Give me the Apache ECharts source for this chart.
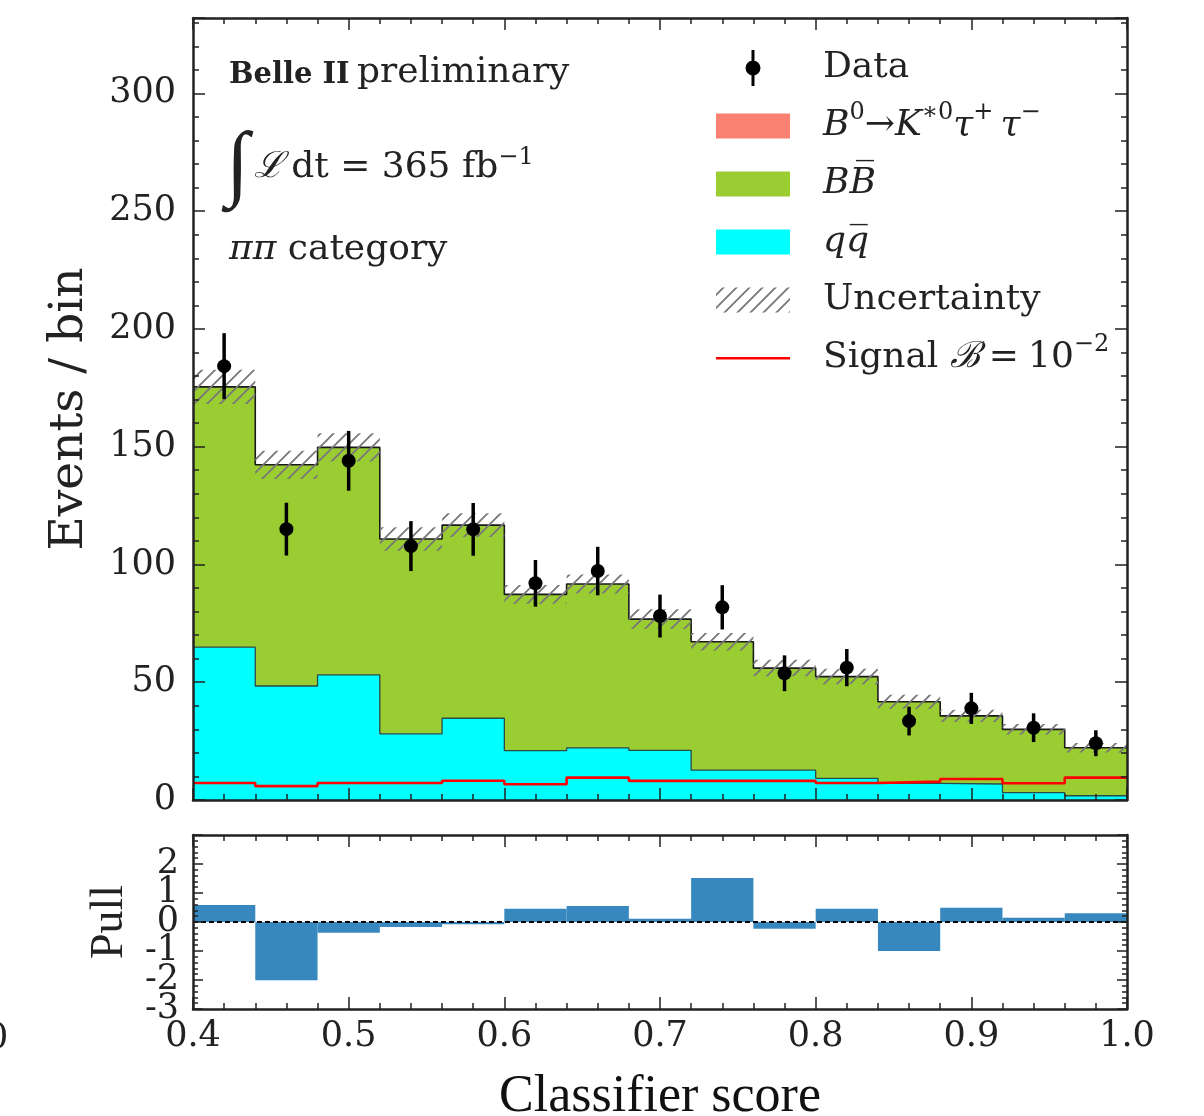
<!DOCTYPE html>
<html>
<head>
<meta charset="utf-8">
<title>Classifier score - pi pi category</title>
<script src="https://cdn.jsdelivr.net/npm/echarts@6/dist/echarts.min.js"></script>
<style>
  html, body { margin: 0; padding: 0; background: #fff; }
  #chart { width: 1204px; height: 1116px; }
</style>
</head>
<body>
<div id="chart"></div>
<script>
// bin edges of the classifier score (15 bins of 0.04)
const binEdges = [0.40, 0.44, 0.48, 0.52, 0.56, 0.60, 0.64, 0.68, 0.72, 0.76, 0.80, 0.84, 0.88, 0.92, 0.96, 1.00];

// stacked fit components (events / bin)
const qqYield = [64.9, 48.4, 53.1, 28.1, 34.7, 21.0, 22.1, 21.1, 12.7, 12.7, 9.2, 7.1, 6.8, 3.1, 1.8];
const bbYield = [110.5, 93.9, 96.6, 82.7, 82.0, 66.3, 69.6, 55.7, 54.5, 43.3, 43.2, 34.6, 28.9, 26.9, 20.4];
const sigFitYield = [0, 0, 0, 0, 0, 0, 0, 0, 0, 0, 0, 0, 0, 0, 0];
// half width of the hatched uncertainty band
const totalUnc = [7.3, 6.0, 6.0, 5.0, 5.0, 4.0, 4.0, 4.2, 3.7, 3.5, 3.3, 3.0, 2.6, 2.3, 2.0];
// signal shape for B = 1e-2
const signalRef = [7.2, 5.9, 7.2, 7.2, 8.2, 6.7, 9.5, 8.1, 8.1, 8.1, 7.2, 7.8, 8.9, 7.1, 9.5];

// data points
const dataCounts = [184.2, 115.0, 144.0, 107.8, 114.9, 92.0, 97.2, 78.1, 81.8, 53.8, 56.2, 33.5, 38.9, 30.7, 24.1];
const dataErrors = [14.0, 11.2, 12.7, 10.6, 11.2, 9.9, 10.3, 9.1, 9.4, 7.6, 7.9, 6.1, 6.6, 6.1, 5.5];

// pull per bin
const pullValues = [0.59, -2.01, -0.37, -0.17, -0.08, 0.46, 0.55, 0.11, 1.52, -0.23, 0.46, -1.0, 0.49, 0.15, 0.30];

// tick labels
const mainYTicks = [0, 50, 100, 150, 200, 250, 300];
const pullYTicks = [-3, -2, -1, 0, 1, 2];
const xTicks = [0.4, 0.5, 0.6, 0.7, 0.8, 0.9, 1.0];

const NAME_SIG = 'sigfit';
const NAME_BB = 'bb';
const NAME_QQ = 'qq';
const NAME_UNC = 'Uncertainty';
const NAME_DATA = 'Data';
const NAME_SIGREF = 'signal';

const serif = 'DejaVu Serif';
const times = 'Liberation Serif';
const ink = '#222';

// 斜线填充
function makeHatch() {
  const s = 13;
  const c = document.createElement('canvas');
  c.width = s;
  c.height = s;
  const g = c.getContext('2d');
  g.strokeStyle = '#777';
  g.lineWidth = 1.8;
  g.beginPath();
  g.moveTo(0, s); g.lineTo(s, 0);
  g.moveTo(-s / 2, s / 2); g.lineTo(s / 2, -s / 2);
  g.moveTo(s / 2, s * 1.5); g.lineTo(s * 1.5, s / 2);
  g.stroke();
  return { image: c, repeat: 'repeat' };
}
const hatch = makeHatch();

function stepPoints(vals) {
  const pts = vals.map((v, i) => [binEdges[i], v]);
  pts.push([binEdges[binEdges.length - 1], vals[vals.length - 1]]);
  return pts;
}

const qqTop = qqYield.slice();
const bbTop = qqYield.map((q, i) => q + bbYield[i]);
const sigTop = bbTop.map((t, i) => t + sigFitYield[i]);

// legend icons: 102 x 36 boxes, the tiny open subpaths only pin the bbox
const pin = ' M0,0 L0.01,0 M102,36 L102.01,36';
const boxIcon = 'path://M0,5.5 L74,5.5 L74,30.5 L0,30.5 Z' + pin;
const lineIcon = 'path://M0,17 L74,17 L74,19.5 L0,19.5 Z' + pin;
const dataIcon = 'path://M35.5,0 L38.5,0 L38.5,36 L35.5,36 Z M29.5,18 A7.5,7.5 0 1,1 44.5,18 A7.5,7.5 0 1,1 29.5,18 Z' + pin;

const legendLabels = {};
legendLabels[NAME_DATA] = 'Data';
legendLabels[NAME_SIG] = '{it|B}{sup|0}{rm|\u2192}{it|K}{sup|\u22170}{it|\u03c4}{sup|+}{it|\u2009\u03c4}{sup|\u2212}';
legendLabels[NAME_BB] = '{it|B}{it|B\u0305}';
legendLabels[NAME_QQ] = '{it|q}{it|q\u0305}';
legendLabels[NAME_UNC] = 'Uncertainty';
legendLabels[NAME_SIGREF] = 'Signal {cal|\u212c}{rm|\u2005=\u200510}{sup|\u22122}';

const tickStyle = { color: ink, width: 1.5 };

function xAxisOf(grid, position, showLabel) {
  return {
    type: 'value', gridIndex: grid, position: position, min: 0.4, max: 1.0, interval: 0.1, z: 5,
    axisLine: { show: true, onZero: false, lineStyle: { color: ink, width: 2.5 } },
    axisTick: { show: true, inside: true, length: 12, lineStyle: tickStyle },
    minorTick: { show: true, splitNumber: 5, length: 6, lineStyle: tickStyle },
    splitLine: { show: false }, minorSplitLine: { show: false },
    axisLabel: {
      show: showLabel, margin: 10, color: ink, fontFamily: serif, fontSize: 35,
      showMinLabel: true, showMaxLabel: true,
      formatter: v => {
        const hit = xTicks.find(t => Math.abs(t - v) < 1e-6);
        return hit === undefined ? '' : hit.toFixed(1);
      }
    }
  };
}

function mainYAxis(position, interval, len, showLabel, showLine) {
  return {
    type: 'value', gridIndex: 0, position: position, offset: 0, min: 0, max: 332, interval: interval, z: 5,
    axisLine: { show: showLine, onZero: false, lineStyle: { color: ink, width: 2.5 } },
    axisTick: { show: true, inside: true, length: len, lineStyle: tickStyle },
    splitLine: { show: false },
    axisLabel: {
      show: showLabel, margin: 17, color: ink, fontFamily: serif, fontSize: 35,
      showMinLabel: true,
      formatter: v => (mainYTicks.indexOf(v) >= 0 ? String(v) : '')
    }
  };
}

// the pull labels overlap each other, so odd and even ones live on two axes
function pullYAxis(position, labelParity, withTicks) {
  return {
    type: 'value', gridIndex: 1, position: position, offset: 0, min: -3, max: 3, interval: 1, z: 5,
    axisLine: { show: withTicks, onZero: false, lineStyle: { color: ink, width: 2.5 } },
    axisTick: { show: withTicks, inside: true, length: 10, lineStyle: tickStyle },
    minorTick: { show: withTicks, splitNumber: 5, length: 5, lineStyle: tickStyle },
    splitLine: { show: false }, minorSplitLine: { show: false },
    axisLabel: {
      show: labelParity !== null, margin: 14, color: ink, fontFamily: serif, fontSize: 35,
      showMinLabel: true, showMaxLabel: false,
      formatter: v => (pullYTicks.indexOf(v) >= 0 && Math.abs(v % 2) === labelParity ? String(v) : '')
    }
  };
}

const yMainLeft = mainYAxis('left', 50, 12, true, true);
yMainLeft.name = 'Events / bin';
yMainLeft.nameLocation = 'middle';
yMainLeft.nameGap = 100;
yMainLeft.nameTextStyle = { fontFamily: serif, fontSize: 47, color: ink };

const yPullLeft = pullYAxis('left', 1, true);
yPullLeft.name = 'Pull';
yPullLeft.nameLocation = 'middle';
yPullLeft.nameGap = 60;
yPullLeft.nameTextStyle = { fontFamily: times, fontSize: 46, color: ink };

const xPullBottom = xAxisOf(1, 'bottom', true);
xPullBottom.name = 'Classifier score';
xPullBottom.nameLocation = 'middle';
xPullBottom.nameGap = 62;
xPullBottom.nameTextStyle = { fontFamily: times, fontSize: 52, color: '#111' };

const option = {
  animation: false,
  backgroundColor: '#fff',
  grid: [
    { left: 193, right: 77, top: 18, height: 782, outerBoundsMode: 'none', containLabel: false },
    { left: 193, right: 77, top: 835, height: 174, outerBoundsMode: 'none', containLabel: false }
  ],
  xAxis: [
    xAxisOf(0, 'bottom', false),
    xAxisOf(0, 'top', false),
    xPullBottom,
    xAxisOf(1, 'top', false)
  ],
  yAxis: [
    yMainLeft,
    mainYAxis('left', 10, 6, false, false),
    mainYAxis('right', 50, 12, false, true),
    mainYAxis('right', 10, 6, false, false),
    yPullLeft,
    pullYAxis('right', null, true),
    pullYAxis('left', 0, false)
  ],
  legend: {
    orient: 'vertical', left: 716, top: 43, padding: 0, itemGap: 8,
    itemWidth: 102, itemHeight: 36, selectedMode: false,
    textStyle: {
      fontFamily: serif, fontSize: 36, color: ink, lineHeight: 50,
      rich: {
        it: { fontFamily: serif, fontStyle: 'italic', fontSize: 36, lineHeight: 50 },
        rm: { fontFamily: serif, fontSize: 36, lineHeight: 50 },
        cal: { fontFamily: serif, fontStyle: 'italic', fontSize: 36, lineHeight: 50 },
        sup: { fontFamily: serif, fontSize: 24, lineHeight: 28, verticalAlign: 'top' }
      }
    },
    formatter: name => legendLabels[name],
    data: [
      { name: NAME_DATA, icon: dataIcon, itemStyle: { color: '#000', borderWidth: 0 } },
      { name: NAME_SIG, icon: boxIcon, itemStyle: { color: '#fa8072', borderWidth: 0 } },
      { name: NAME_BB, icon: boxIcon, itemStyle: { color: '#9acd32', borderWidth: 0 } },
      { name: NAME_QQ, icon: boxIcon, itemStyle: { color: '#00ffff', borderWidth: 0 } },
      { name: NAME_UNC, icon: boxIcon, itemStyle: { color: hatch, borderWidth: 0 } },
      { name: NAME_SIGREF, icon: lineIcon, itemStyle: { color: '#ff0000', borderWidth: 0 } }
    ]
  },
  graphic: [
    { type: 'text', x: 229, y: 75, style: { text: 'Belle II', fontFamily: serif, fontWeight: 'bold', fontSize: 29, fill: ink, verticalAlign: 'middle' } },
    { type: 'text', x: 357, y: 73, style: { text: 'preliminary', fontFamily: serif, fontSize: 36, fill: ink, verticalAlign: 'middle' } },
    { type: 'text', x: 226, y: 168, style: { text: '\u222b', fontFamily: times, fontSize: 84, fill: ink, verticalAlign: 'middle' } },
    {
      type: 'text', x: 254, y: 168,
      style: {
        text: '{cal|\u2112}{n|\u2009dt = 365 fb}{sup|\u22121}',
        fill: ink, verticalAlign: 'middle',
        rich: {
          cal: { fontFamily: serif, fontStyle: 'italic', fontSize: 36, lineHeight: 44 },
          n: { fontFamily: serif, fontSize: 36, lineHeight: 44 },
          sup: { fontFamily: serif, fontSize: 24, lineHeight: 24, verticalAlign: 'top' }
        }
      }
    },
    {
      type: 'text', x: 229, y: 250,
      style: {
        text: '{it|\u03c0\u03c0} category', fontFamily: serif, fontSize: 36, fill: ink, verticalAlign: 'middle',
        rich: { it: { fontFamily: serif, fontStyle: 'italic', fontSize: 36 } }
      }
    },
    { type: 'text', x: -14, y: 1039, style: { text: '0', fontFamily: serif, fontSize: 35, fill: ink, verticalAlign: 'middle' } }
  ],
  series: [
    {
      name: NAME_SIG, type: 'line', xAxisIndex: 0, yAxisIndex: 0, step: 'end', symbol: 'none', z: 1,
      data: stepPoints(sigTop), itemStyle: { color: '#fa8072' },
      lineStyle: { width: 0 }, areaStyle: { color: '#fa8072', opacity: 1 }
    },
    {
      name: NAME_BB, type: 'line', xAxisIndex: 0, yAxisIndex: 0, step: 'end', symbol: 'none', z: 1,
      data: stepPoints(bbTop), itemStyle: { color: '#9acd32' },
      lineStyle: { color: '#1a1a1a', width: 1.6 }, areaStyle: { color: '#9acd32', opacity: 1 }
    },
    {
      name: NAME_QQ, type: 'line', xAxisIndex: 0, yAxisIndex: 0, step: 'end', symbol: 'none', z: 2,
      data: stepPoints(qqTop), itemStyle: { color: '#00ffff' },
      lineStyle: { color: '#2b4b4b', width: 1.3 }, areaStyle: { color: '#00ffff', opacity: 1 }
    },
    {
      name: NAME_UNC, type: 'custom', xAxisIndex: 0, yAxisIndex: 0, clip: true, z: 3,
      itemStyle: { color: hatch },
      encode: { x: [0, 1], y: [2, 3] },
      data: sigTop.map((t, i) => [binEdges[i], binEdges[i + 1], t - totalUnc[i], t + totalUnc[i]]),
      renderItem: (params, api) => {
        const a = api.coord([api.value(0), api.value(3)]);
        const b = api.coord([api.value(1), api.value(2)]);
        return {
          type: 'rect',
          shape: { x: a[0], y: a[1], width: b[0] - a[0], height: b[1] - a[1] },
          style: { fill: hatch }
        };
      }
    },
    {
      name: NAME_SIGREF, type: 'line', xAxisIndex: 0, yAxisIndex: 0, step: 'end', symbol: 'none', z: 4,
      data: stepPoints(signalRef), itemStyle: { color: '#ff0000' },
      lineStyle: { color: '#ff0000', width: 2.6 }
    },
    {
      name: NAME_DATA, type: 'custom', xAxisIndex: 0, yAxisIndex: 0, z: 8,
      itemStyle: { color: '#000' },
      encode: { x: 0, y: 1 },
      data: dataCounts.map((v, i) => [(binEdges[i] + binEdges[i + 1]) / 2, v, dataErrors[i]]),
      renderItem: (params, api) => {
        const x = api.value(0), y = api.value(1), e = api.value(2);
        const c = api.coord([x, y]);
        const hi = api.coord([x, y + e]);
        const lo = api.coord([x, y - e]);
        return {
          type: 'group',
          children: [
            { type: 'line', shape: { x1: c[0], y1: hi[1], x2: c[0], y2: lo[1] }, style: { stroke: '#000', lineWidth: 3.5 } },
            { type: 'circle', shape: { cx: c[0], cy: c[1], r: 7 }, style: { fill: '#000' } }
          ]
        };
      }
    },
    {
      name: 'pull', type: 'custom', xAxisIndex: 2, yAxisIndex: 4, clip: true, z: 2,
      itemStyle: { color: '#3688be' },
      encode: { x: [0, 1], y: 2 },
      data: pullValues.map((p, i) => [binEdges[i], binEdges[i + 1], p]),
      renderItem: (params, api) => {
        const a = api.coord([api.value(0), api.value(2)]);
        const b = api.coord([api.value(1), 0]);
        return {
          type: 'rect',
          shape: { x: a[0], y: Math.min(a[1], b[1]), width: b[0] - a[0], height: Math.abs(b[1] - a[1]) },
          style: { fill: '#3688be' }
        };
      },
      markLine: {
        silent: true, symbol: 'none', label: { show: false },
        lineStyle: { color: '#000', width: 2.2, type: [5, 3] },
        data: [{ yAxis: 0 }]
      }
    }
  ]
};

const chart = echarts.init(document.getElementById('chart'));
chart.setOption(option);
</script>
</body>
</html>
